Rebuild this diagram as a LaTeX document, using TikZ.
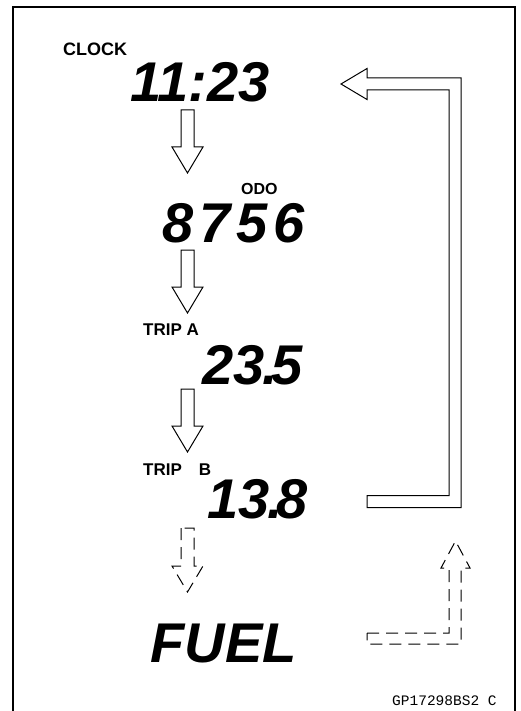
\documentclass[tikz,border=0pt]{standalone}
\usepackage{fontspec}
\usepackage{tikz}
\usetikzlibrary{calc}
\newfontfamily\lcdfont{Liberation Sans}
\newfontfamily\lblfont{Liberation Sans}
\newfontfamily\codefont{Liberation Mono}

% hollow block arrow pointing down, from #2 (tail) to #3 (tip)
\newcommand{\blockdown}[3][]{%
  \draw[blockarr,#1] ($(#2)+(-6.5,0)$) -- ($(#3)+(-6.5,-26)$) -- ($(#3)+(-15.5,-26)$)
    -- (#3) -- ($(#3)+(15.5,-26)$) -- ($(#3)+(6.5,-26)$) -- ($(#2)+(6.5,0)$) -- cycle;}

\begin{document}
\begin{tikzpicture}[
  x=1pt, y=-1pt,
  lcd/.style={font=\lcdfont\bfseries\itshape\fontsize{56}{56}\selectfont, inner sep=0pt, anchor=base east},
  lbl/.style={font=\lblfont\bfseries\fontsize{#1}{#1}\selectfont, inner sep=0pt, anchor=base west},
  blockarr/.style={draw=black, line width=1pt, fill=white, line join=miter},
  dashedarr/.style={dash pattern=on 12pt off 7pt},
  frameline/.style={line width=1.5pt}
]
  \useasboundingbox (0,0) rectangle (520,711);
  \draw[frameline] (13,711) -- (13,7) -- (515,7) -- (515,711);

  % Readouts
  \node[lcd] (clock) at (270,102) {11:23};
  \node[lcd] (odo) at (305,242) {8\kern6pt7\kern6pt5\kern6pt6};
  \node[lcd] (tripa) at (303,384) {23\kern-3pt.\kern-6pt5};
  \node[lcd] (tripb) at (308,518) {13\kern-3pt.\kern-6pt8};
  \node[lcd] (fuel) at (297,662) {FUEL};

  % Labels
  \node[lbl=18] (clocklbl) at (63,56) {CLOCK};
  \node[lbl=16] (odolbl) at (241,195) {ODO};
  \node[lbl=17] (tripalbl) at (143,335) {TRIP A};
  \node[lbl=17] (tripblbl) at (143,475) {TRIP\quad B};
  \node[font=\codefont\fontsize{14.5}{14.5}\selectfont, inner sep=0pt, anchor=base west] (code) at (392,705) {GP17298BS2 C};

  % Down arrows
  \coordinate (d1s) at (187.5,110);  \coordinate (d1e) at (187.5,173);
  \coordinate (d2s) at (187.5,250);  \coordinate (d2e) at (187.5,313);
  \coordinate (d3s) at (187.5,389);  \coordinate (d3e) at (187.5,452);
  \coordinate (d4s) at (187.5,528);  \coordinate (d4e) at (187.5,592);
  \blockdown{d1s}{d1e}
  \blockdown{d2s}{d2e}
  \blockdown{d3s}{d3e}
  \blockdown[dashedarr]{d4s}{d4e}

  % Return arrows
  \coordinate (rets) at (367,501.5);
  \coordinate (rett) at (341,84);
  \draw[blockarr] ($(rets)+(0,-6)$) -- (449,495.5) -- (449,90) -- (367,90) -- (367,99.5)
    -- (rett) -- (367,68.5) -- (367,78) -- (461,78) -- (461,507.5) -- ($(rets)+(0,6)$) -- cycle;
  \coordinate (fuels) at (367,638.5);
  \coordinate (fuelt) at (455.5,541);
  \draw[blockarr, dashedarr] ($(fuels)+(0,-5.5)$) -- (449,633) -- (449,568) -- (441,568)
    -- (fuelt) -- (470,568) -- (461,568) -- (461,644) -- ($(fuels)+(0,5.5)$) -- cycle;
\end{tikzpicture}
\end{document}
